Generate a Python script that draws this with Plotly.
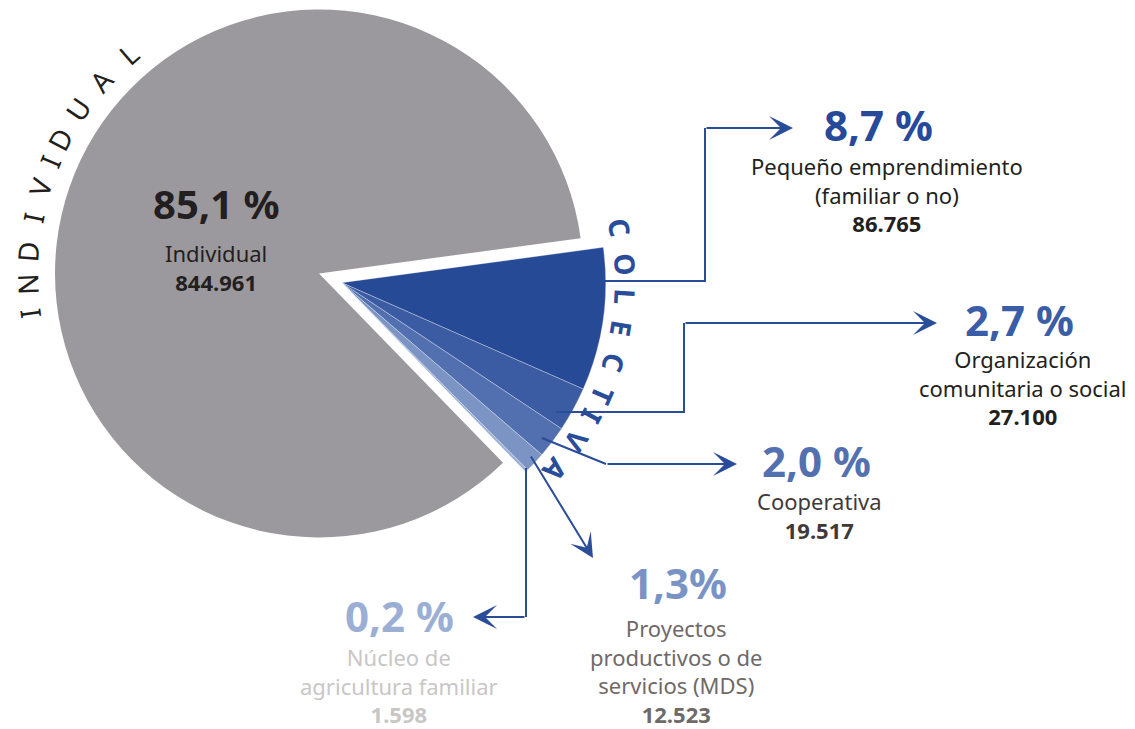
import math
import plotly.graph_objects as go

# ---------------- data ----------------
categories = ["Pequeño emprendimiento (familiar o no)", "Organización comunitaria o social",
              "Cooperativa", "Proyectos productivos o de servicios (MDS)",
              "Núcleo de agricultura familiar", "Individual"]
values = [86765, 27100, 19517, 12523, 1598, 844961]
percent_labels = ["8,7 %", "2,7 %", "2,0 %", "1,3%", "0,2 %", "85,1 %"]
count_labels = ["86.765", "27.100", "19.517", "12.523", "1.598", "844.961"]
body_labels = ["Pequeño emprendimiento<br>(familiar o no)", "Organización<br>comunitaria o social",
               "Cooperativa", "Proyectos<br>productivos o de<br>servicios (MDS)",
               "Núcleo de<br>agricultura familiar", "Individual"]
group_titles = ["INDIVIDUAL", "COLECTIVA"]

# ---------------- style ----------------
W, H = 1135, 729
FONT = "Noto Sans"
slice_colors = ["#264a96", "#3b5ba3", "#5270b0", "#7c94c4", "#9cafd5", "#9b999d"]
pct_colors = ["#27499a", "#3a5da8", "#5370b1", "#7a93c5", "#9bafd5", "#231f20"]
text_colors = ["#231f20", "#231f20", "#3f3a39", "#6f6968", "#c9c6c6", "#231f20"]
pct_sizes = [42, 42, 42, 42, 42, 40]
LINE = "#2a4d9a"

ROT = 82.3
R = 264
gray_c = (319, 273.5)
blue_c = (341.7, 282.7)


def dom(c):
    cx, cy = c
    return dict(x=[(cx - R) / W, (cx + R) / W], y=[1 - (cy + R) / H, 1 - (cy - R) / H])


n = len(values)
fig = go.Figure()
# individual slice (gray) – collective slices transparent
fig.add_trace(go.Pie(
    values=values, labels=categories, sort=False, direction="clockwise", rotation=ROT,
    marker=dict(colors=["rgba(0,0,0,0)"] * (n - 1) + [slice_colors[-1]], line=dict(width=0)),
    textinfo="none", hoverinfo="skip", domain=dom(gray_c), showlegend=False))
# collective slices (blue), pulled out as a group
fig.add_trace(go.Pie(
    values=values, labels=categories, sort=False, direction="clockwise", rotation=ROT,
    marker=dict(colors=slice_colors[:-1] + ["rgba(0,0,0,0)"],
                line=dict(color="rgba(255,255,255,0.6)", width=[0.5] * (n - 1) + [0])),
    textinfo="none", hoverinfo="skip", domain=dom(blue_c), showlegend=False))

annotations = []

# label blocks: (pct center, body center)
label_pos = [((878, 124), (887, 194)),
             ((1019, 319), (1023, 387)),
             ((816, 460), (819, 515)),
             ((678, 582), (676, 671)),
             ((399, 615), (399, 685)),
             ((216, 203), (216, 267))]
for i in range(n):
    (px, py), (bx, by) = label_pos[i]
    annotations.append(dict(x=px, y=py, xref="x", yref="y", text=f"<b>{percent_labels[i]}</b>",
                            showarrow=False, xanchor="center", yanchor="middle", borderpad=0,
                            height=48,
                            font=dict(family=FONT, size=pct_sizes[i], color=pct_colors[i])))
    annotations.append(dict(x=bx, y=by, xref="x", yref="y",
                            text=f"{body_labels[i]}<br><b>{count_labels[i]}</b>",
                            showarrow=False, xanchor="center", yanchor="middle", align="center",
                            borderpad=0,
                            font=dict(family=FONT, size=22, color=text_colors[i])))

# curved group titles
ind_angles = [187.6, 181.9, 175.5, 168.7, 162.6, 157.1, 152.4, 145.6, 138.5, 130.9]
col_angles = [11.2, 3.7, -2.9, -9.3, -16.4, -23.4, -28.2, -34.0, -41.3]
for txt, c, r, angs, col, bold, size in [
        (group_titles[0], (320, 275), 293, ind_angles, "#231f20", False, 28),
        (group_titles[1], blue_c, 284, col_angles, LINE, True, 28)]:
    for ch, a in zip(txt, angs):
        x = c[0] + r * math.cos(math.radians(a))
        y = c[1] - r * math.sin(math.radians(a))
        annotations.append(dict(x=x, y=y, xref="x", yref="y",
                                text=f"<b>{ch}</b>" if bold else ch, textangle=90 - a,
                                showarrow=False, xanchor="center", yanchor="middle",
                                font=dict(family=FONT, size=size, color=col)))

# leader lines
leaders = [
    [(601, 281), (705, 281), (705, 128), (793, 128)],
    [(556, 412), (684, 412), (684, 323), (937, 323)],
    [(542, 438), (606, 464), (737, 464)],
    [(530, 455), (593, 558)],
    [(526, 468), (526, 617), (473, 617)],
]
shapes = []
for pts in leaders:
    path = "M " + " L ".join(f"{x},{y}" for x, y in pts[:-1])
    if len(pts) > 2:
        shapes.append(dict(type="path", path=path, xref="x", yref="y", layer="above",
                           line=dict(color=LINE, width=2)))
    (tx, ty), (hx, hy) = pts[-2], pts[-1]
    annotations.append(dict(x=hx, y=hy, ax=tx, ay=ty, xref="x", yref="y", axref="x", ayref="y",
                            text="", showarrow=True, arrowhead=3, arrowsize=2, arrowwidth=2,
                            arrowcolor=LINE, standoff=0, startstandoff=0))

fig.update_layout(
    width=W, height=H, margin=dict(l=0, r=0, t=0, b=0),
    paper_bgcolor="white", plot_bgcolor="rgba(0,0,0,0)", showlegend=False,
    xaxis=dict(range=[0, W], visible=False, fixedrange=True, domain=[0, 1]),
    yaxis=dict(range=[H, 0], visible=False, fixedrange=True, domain=[0, 1]),
    annotations=annotations, shapes=shapes,
)
fig.write_html("out.html", config={"displayModeBar": False},
               post_script="document.body.style.margin='0px';")
